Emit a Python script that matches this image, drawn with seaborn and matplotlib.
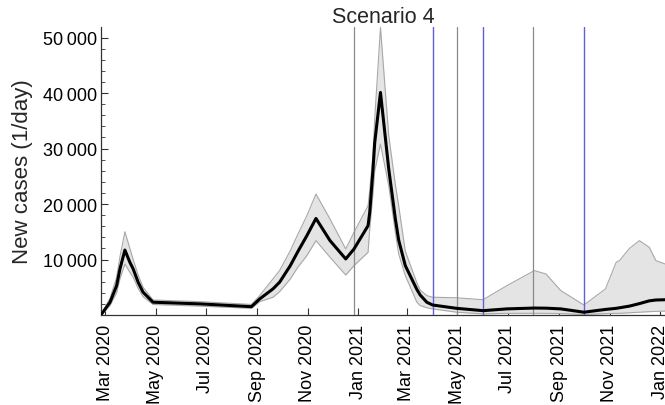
import matplotlib
matplotlib.use("Agg")
import matplotlib.pyplot as plt
import matplotlib.dates as mdates
from matplotlib.ticker import FixedLocator, MultipleLocator, FuncFormatter
import seaborn as sns
import pandas as pd

# ---------------- data ----------------
dates = [
    "2020-02-26", "2020-03-07", "2020-03-15", "2020-03-19", "2020-03-25",
    "2020-03-31", "2020-04-04", "2020-04-10", "2020-04-16", "2020-04-28",
    "2020-06-24", "2020-08-25", "2020-09-04", "2020-09-20", "2020-09-28",
    "2020-10-11", "2020-10-20", "2020-10-31", "2020-11-11", "2020-11-28",
    "2020-12-17", "2020-12-27", "2021-01-13", "2021-01-15", "2021-01-19",
    "2021-01-21", "2021-01-28", "2021-02-07", "2021-02-15", "2021-02-19",
    "2021-02-27", "2021-03-13", "2021-03-17", "2021-03-25", "2021-04-01",
    "2021-04-30", "2021-06-01", "2021-06-30", "2021-08-02", "2021-08-16",
    "2021-09-03", "2021-10-01", "2021-10-19", "2021-10-27", "2021-11-09",
    "2021-11-13", "2021-11-25", "2021-12-07", "2021-12-19", "2021-12-27",
    "2022-01-07",
]
mean_cases = [
    200, 2300, 5300, 8300, 11700,
    9500, 8300, 5900, 4100, 2300,
    2000, 1500, 2900, 4700, 5900,
    8900, 11400, 14300, 17400, 13400,
    10100, 11900, 16100, 18500, 26300,
    31000, 40100, 26300, 17300, 13500,
    8900, 4600, 3600, 2300, 1800,
    1200, 780, 1100, 1250, 1230,
    1100, 500, 850, 1000, 1200,
    1300, 1600, 2050, 2550, 2700,
    2750,
]
lower_cases = [
    100, 1700, 4000, 6500, 9200,
    7700, 6800, 4800, 3300, 1900,
    1600, 1200, 2400, 3200, 4200,
    6500, 8600, 10700, 13400, 10400,
    7200, 8900, 11300, 15500, 22000,
    26000, 30800, 23300, 14900, 11000,
    7100, 2300, 1700, 1300, 1100,
    500, 200, 300, 300, 300,
    250, 100, 200, 250, 300,
    300, 400, 500, 600, 650,
    700,
]
upper_cases = [
    300, 3000, 6800, 10500, 15000,
    12000, 10000, 7200, 5000, 2700,
    2400, 1900, 3500, 6500, 8000,
    11600, 14500, 17900, 21800, 17300,
    11900, 14900, 19700, 22500, 29000,
    35300, 51800, 32300, 23500, 19700,
    11500, 5800, 4500, 3500, 3200,
    3100, 2750, 5300, 8000, 7400,
    4400, 1800, 3800, 4700, 9500,
    9800, 12000, 13400, 12200, 9800,
    9200,
]
gray_lines = ["2020-12-27", "2021-05-01", "2021-08-01"]
blue_lines = ["2021-04-01", "2021-06-01", "2021-10-01"]
y_ticks = [10000, 20000, 30000, 40000, 50000]
title = "Scenario 4"
y_label = "New cases (1/day)"

# ---------------- plotting ----------------
sns.set_style("ticks")
plt.rcParams["font.family"] = ["Liberation Sans", "DejaVu Sans"]

df = pd.DataFrame({
    "date": pd.to_datetime(dates),
    "mean": mean_cases,
    "lower": lower_cases,
    "upper": upper_cases,
})

fig = plt.figure(figsize=(6.65, 4.06), dpi=100)
ax = fig.add_axes([0.152, 0.2217, 0.848, 0.7093])

ax.fill_between(df["date"], df["lower"], df["upper"], color="#e4e4e4",
                linewidth=0, zorder=1)
sns.lineplot(data=df, x="date", y="upper", ax=ax, color="#a8a8a8",
             linewidth=0.8, zorder=2)
sns.lineplot(data=df, x="date", y="lower", ax=ax, color="#a8a8a8",
             linewidth=0.8, zorder=2)

for d in gray_lines:
    ax.axvline(pd.Timestamp(d), color="#8a8a8a", linewidth=0.9, zorder=3)
for d in blue_lines:
    ax.axvline(pd.Timestamp(d), color="#6060d8", linewidth=1.0, zorder=3)

sns.lineplot(data=df, x="date", y="mean", ax=ax, color="black",
             linewidth=2.2, zorder=4)

ax.set_xlim(pd.Timestamp("2020-03-01") - pd.Timedelta(days=4.8),
            pd.Timestamp("2022-01-07"))
ax.set_ylim(0, 51900)

ax.xaxis.set_major_locator(mdates.MonthLocator(bymonth=[1, 3, 5, 7, 9, 11]))
ax.xaxis.set_major_formatter(mdates.DateFormatter("%b %Y"))
ax.yaxis.set_major_locator(FixedLocator(y_ticks))
ax.yaxis.set_minor_locator(MultipleLocator(2000))
ax.yaxis.set_major_formatter(
    FuncFormatter(lambda v, p: f"{int(v):,}".replace(",", "\u2009")))

ax.tick_params(axis="x", direction="in", length=5, width=0.8, pad=6.5,
               labelsize=13, rotation=90, colors="#333333", labelcolor="black")
ax.tick_params(axis="y", which="major", direction="in", length=5, width=0.8,
               pad=3, labelsize=13, colors="#333333", labelcolor="black")
ax.tick_params(axis="y", which="minor", direction="in", length=3, width=0.6,
               colors="#333333")

for s in ["top", "right"]:
    ax.spines[s].set_visible(False)
for s in ["left", "bottom"]:
    ax.spines[s].set_color("#333333")
    ax.spines[s].set_linewidth(0.9)

ax.set_xlabel("")
ax.set_ylabel(y_label, fontsize=16, labelpad=7)
ax.set_title(title, fontsize=15.5, pad=3)

fig.savefig("out.png", dpi=100)
